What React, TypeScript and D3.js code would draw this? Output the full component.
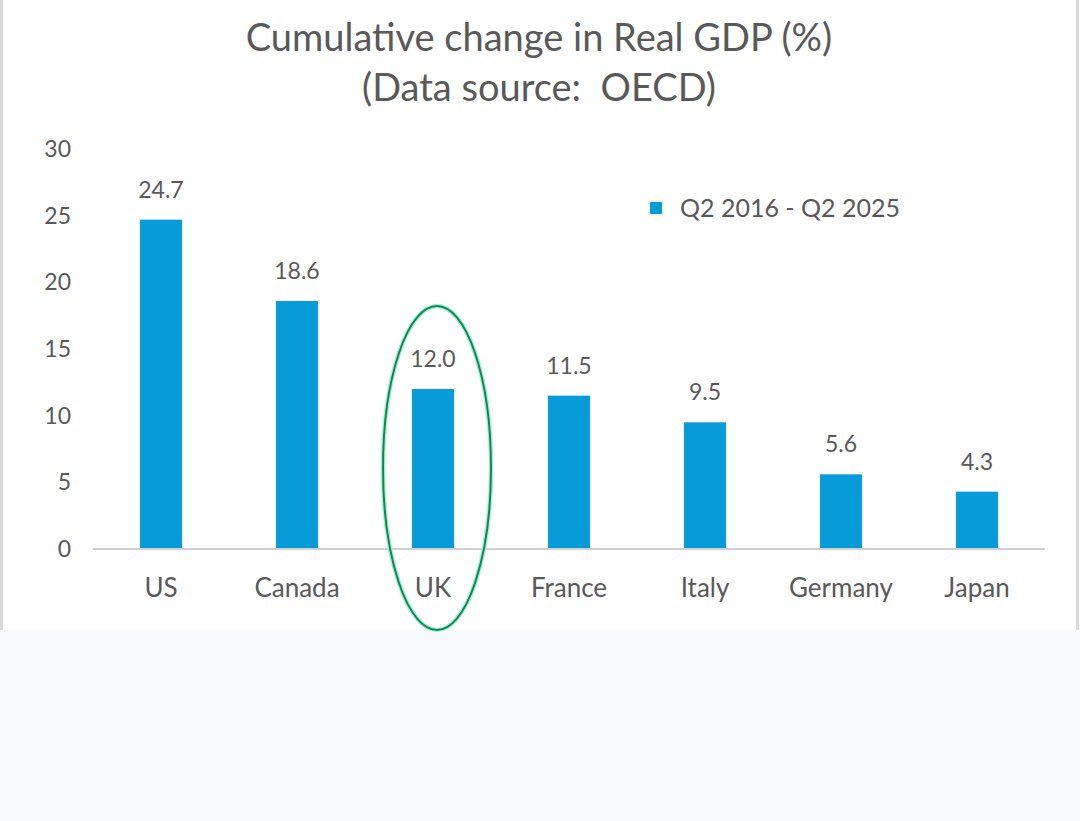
import * as d3 from 'd3';
import React, { useEffect, useRef } from 'react';

const countries = ['US', 'Canada', 'UK', 'France', 'Italy', 'Germany', 'Japan'];
const gdpChange = [24.7, 18.6, 12.0, 11.5, 9.5, 5.6, 4.3];
const yTicks = [0, 5, 10, 15, 20, 25, 30];
const titleLines = ['Cumulative change in Real GDP (%)', '(Data source:  OECD)'];
const seriesName = 'Q2 2016 - Q2 2025';
const highlighted = 'UK';

const width = 1080;
const height = 821;
const font = 'Lato, "Open Sans", sans-serif';
const textColor = '#595959';
const barColor = '#079cd9';

const App = () => {
  const svgRef = useRef(null);

  useEffect(() => {
    document.body.style.margin = '0';
    const svg = d3.select(svgRef.current);
    svg.selectAll('*').remove();

    // page background below the chart
    svg.append('rect').attr('width', width).attr('height', height).attr('fill', '#f8f9fb');
    svg.append('rect').attr('width', width).attr('height', 630).attr('fill', '#ffffff');
    svg.append('rect').attr('x', 0).attr('y', 0).attr('width', 3).attr('height', 630).attr('fill', '#d9d9d9');
    svg.append('rect').attr('x', 1076).attr('y', 0).attr('width', 3).attr('height', 630).attr('fill', '#d9d9d9');

    const x = d3
      .scaleBand()
      .domain(countries)
      .range([93, 1045])
      .paddingInner(0.69)
      .paddingOuter(0.345);
    const y = d3.scaleLinear().domain([0, 30]).range([549, 149]);

    svg
      .append('g')
      .selectAll('text')
      .data(titleLines)
      .enter()
      .append('text')
      .attr('x', 539)
      .attr('y', (d, i) => 51 + i * 50)
      .attr('text-anchor', 'middle')
      .style('font-family', font)
      .style('font-size', '38px')
      .style('white-space', 'pre')
      .style('fill', textColor)
      .text((d) => d);

    // y axis labels
    svg
      .append('g')
      .selectAll('text')
      .data(yTicks)
      .enter()
      .append('text')
      .attr('x', 71)
      .attr('y', (d) => y(d))
      .attr('dy', '0.35em')
      .attr('text-anchor', 'end')
      .style('font-family', font)
      .style('font-size', '23px')
      .style('fill', textColor)
      .text((d) => d);

    svg
      .append('g')
      .selectAll('rect')
      .data(gdpChange)
      .enter()
      .append('rect')
      .attr('x', (d, i) => x(countries[i]) as number)
      .attr('y', (d) => y(d))
      .attr('width', x.bandwidth())
      .attr('height', (d) => y(0) - y(d))
      .style('fill', barColor);

    svg
      .append('line')
      .attr('x1', 93)
      .attr('x2', 1045)
      .attr('y1', y(0))
      .attr('y2', y(0))
      .style('stroke', '#d0d0d0')
      .style('stroke-width', 2);

    // value labels
    svg
      .append('g')
      .selectAll('text')
      .data(gdpChange)
      .enter()
      .append('text')
      .attr('x', (d, i) => (x(countries[i]) as number) + x.bandwidth() / 2)
      .attr('y', (d) => y(d) - 22)
      .attr('text-anchor', 'middle')
      .style('font-family', font)
      .style('font-size', '23px')
      .style('fill', textColor)
      .text((d) => d.toFixed(1));

    // category labels
    svg
      .append('g')
      .selectAll('text')
      .data(countries)
      .enter()
      .append('text')
      .attr('x', (d) => (x(d) as number) + x.bandwidth() / 2)
      .attr('y', 597)
      .attr('text-anchor', 'middle')
      .style('font-family', font)
      .style('font-size', '26px')
      .style('fill', textColor)
      .text((d) => d);

    // legend
    const legend = svg.append('g').attr('transform', 'translate(650,202)');
    legend.append('rect').attr('width', 12).attr('height', 12).style('fill', barColor);
    legend
      .append('text')
      .attr('x', 30)
      .attr('y', 6)
      .attr('dy', '0.35em')
      .style('font-family', font)
      .style('font-size', '25px')
      .style('fill', textColor)
      .text(seriesName);

    // highlight ring round the UK
    const cx = (x(highlighted) as number) + x.bandwidth() / 2 + 4;
    svg
      .append('ellipse')
      .attr('cx', cx)
      .attr('cy', 468)
      .attr('rx', 54)
      .attr('ry', 162)
      .style('fill', 'none')
      .style('stroke', '#a8f0d0')
      .style('stroke-width', 4.5);
    svg
      .append('ellipse')
      .attr('cx', cx)
      .attr('cy', 468)
      .attr('rx', 54)
      .attr('ry', 162)
      .style('fill', 'none')
      .style('stroke', '#10875a')
      .style('stroke-width', 2);
  }, []);

  return <svg ref={svgRef} width={width} height={height} style={{ display: 'block' }} />;
};

export default App;
